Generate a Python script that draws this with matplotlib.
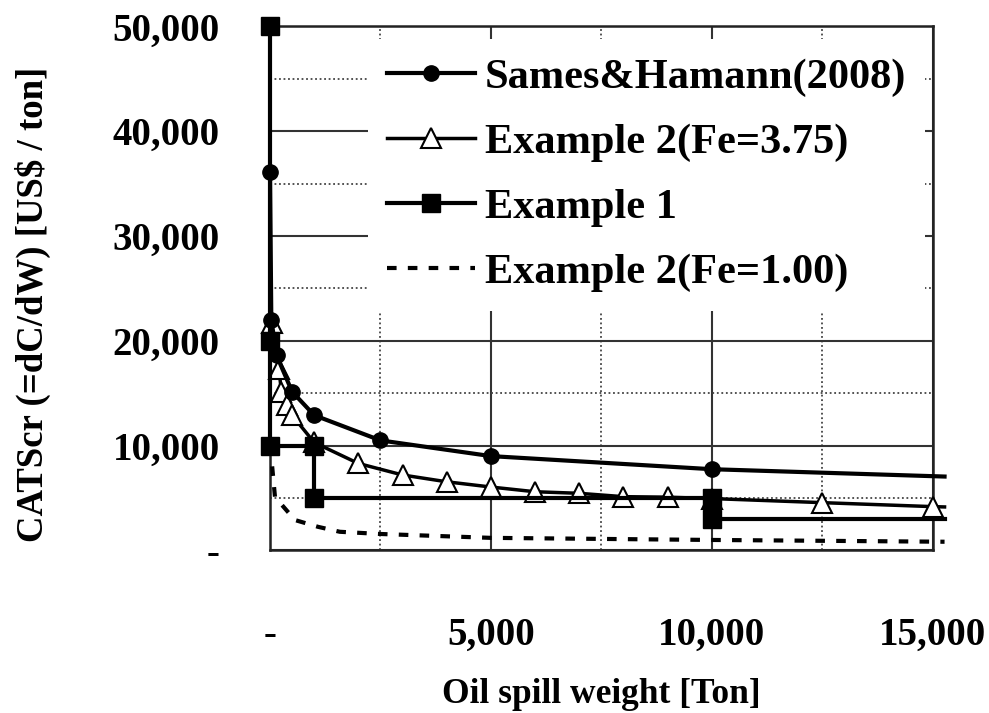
import numpy as np
import matplotlib
matplotlib.use("Agg")
import matplotlib.pyplot as plt
from matplotlib.ticker import MultipleLocator

plt.rcParams['font.family'] = ['Liberation Serif', 'DejaVu Serif']
plt.rcParams['font.weight'] = 'bold'
plt.rcParams['axes.labelweight'] = 'bold'

# Sames & Hamann (2008)
sames_x = [0, 30, 150, 500, 1000, 2500, 5000, 10000, 15270]
sames_y = [36100, 22000, 18600, 15150, 12900, 10500, 9000, 7750, 7050]

# Example 2 (Fe=3.75)
ex2a_x = [50, 200, 260, 380, 500, 1000, 2000, 3000, 4000, 5000, 6000, 7000,
          8000, 9000, 10000, 12500, 15000, 15270]
ex2a_y = [21700, 17300, 15150, 13900, 12900, 10300, 8300, 7200, 6550, 6050,
          5600, 5450, 5130, 5080, 4950, 4560, 4180, 4150]

# Example 1 (step function)
ex1_x = [0, 0, 0, 1000, 1000, 10000, 10000, 15270]
ex1_y = [50000, 20000, 10000, 10000, 5000, 5000, 3000, 3000]

# Example 2 (Fe=1.00)
ex2b_x = [5, 113, 565, 1090, 1580, 2500, 5000, 10000, 15270]
ex2b_y = [10000, 5100, 2900, 2250, 1780, 1570, 1200, 1000, 830]

xticks = [0, 5000, 10000, 15000]
xtick_labels = ['-', '5,000', '10,000', '15,000']
yticks = [0, 10000, 20000, 30000, 40000, 50000]
ytick_labels = ['-', '10,000', '20,000', '30,000', '40,000', '50,000']

fig = plt.figure(figsize=(9.89, 7.13), dpi=100)
ax = fig.add_axes([0.273, 0.228, 0.670, 0.735])

ax.plot(ex2b_x, ex2b_y, color='black', lw=3, ls=(0, (2.3, 2.7)),
        label='Example 2(Fe=1.00)', clip_on=False, zorder=3)
ax.plot(ex2a_x, ex2a_y, color='black', lw=2.5, marker='^', ms=14,
        mfc='white', mec='black', mew=1.5, markevery=slice(0, -1),
        label='Example 2(Fe=3.75)', clip_on=False, zorder=4)
ax.plot(sames_x, sames_y, color='black', lw=3, marker='o', ms=11,
        markevery=slice(0, -1), label='Sames&Hamann(2008)',
        clip_on=False, zorder=5)
ax.plot(ex1_x, ex1_y, color='black', lw=3, marker='s', ms=12.5,
        markevery=slice(0, -1), label='Example 1', clip_on=False, zorder=6)

ax.set_xlim(0, 15000)
ax.set_ylim(0, 50000)
ax.set_xticks(xticks)
ax.set_xticklabels(xtick_labels)
ax.set_yticks(yticks)
ax.set_yticklabels(ytick_labels)
ax.xaxis.set_minor_locator(MultipleLocator(2500))
ax.yaxis.set_minor_locator(MultipleLocator(5000))
ax.grid(which='major', color='#333333', lw=1.5, ls='-')
ax.grid(which='minor', color='#444444', lw=1.3, ls=(0, (1, 1.5)))
ax.set_axisbelow(True)
ax.tick_params(which='both', length=0, labelsize=28)
ax.tick_params(axis='x', pad=48)
ax.tick_params(axis='y', pad=36)
for sp in ax.spines.values():
    sp.set_linewidth(1.8)
    sp.set_color('#222222')

ax.set_xlabel('Oil spill weight [Ton]', fontsize=25.5, labelpad=17)
ax.set_ylabel('CATScr (=dC/dW) [US$ / ton]', fontsize=26.5)
ax.yaxis.set_label_coords(-0.33, 0.47)

handles, labels = ax.get_legend_handles_labels()
order = [2, 1, 3, 0]
leg = ax.legend([handles[i] for i in order], [labels[i] for i in order],
                loc='upper left', bbox_to_anchor=(0.148, 0.975),
                fontsize=30.5, frameon=True, fancybox=False, framealpha=1,
                edgecolor='none', facecolor='white', handlelength=2.07,
                handletextpad=0.24, labelspacing=0.62, borderpad=0.45,
                borderaxespad=0)
leg.set_zorder(2.4)

fig.savefig('out.png', dpi=100)
